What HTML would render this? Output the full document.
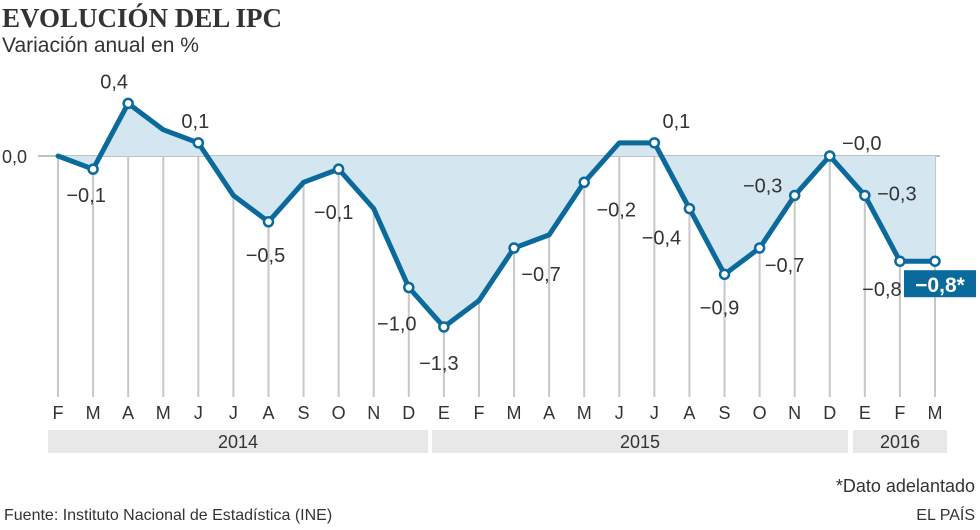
<!DOCTYPE html>
<html><head><meta charset="utf-8"><style>
body{margin:0;background:#fff;width:980px;height:525px;overflow:hidden;font-family:"Liberation Sans",sans-serif;}
</style></head><body>
<svg width="980" height="525" xmlns="http://www.w3.org/2000/svg" style="font-family:'Liberation Sans',sans-serif">
<text x="2" y="27" font-family="Liberation Serif" font-weight="bold" font-size="27" fill="#333">EVOLUCIÓN DEL IPC</text>
<text x="2" y="52" font-size="21" fill="#333">Variación anual en %</text>
<g id="grid"></g><g id="area"></g><g id="line"></g><g id="labels"></g>
<rect x="48" y="430" width="380" height="23" fill="#e8e8e8"/>
<text x="238" y="448" text-anchor="middle" font-size="18" fill="#333">2014</text>
<rect x="432" y="430" width="416" height="23" fill="#e8e8e8"/>
<text x="640" y="448" text-anchor="middle" font-size="18" fill="#333">2015</text>
<rect x="853" y="430" width="94" height="23" fill="#e8e8e8"/>
<text x="900" y="448" text-anchor="middle" font-size="18" fill="#333">2016</text>
<text x="2" y="163" font-size="18" fill="#333">0,0</text>
<text x="975" y="492" text-anchor="end" font-size="18" fill="#333">*Dato adelantado</text>
<text x="4" y="520" font-size="16" fill="#333">Fuente: Instituto Nacional de Estadística (INE)</text>
<text x="975" y="520" text-anchor="end" font-size="16" fill="#333">EL PAÍS</text>
</svg>
<script>
const months=["F","M","A","M","J","J","A","S","O","N","D","E","F","M","A","M","J","J","A","S","O","N","D","E","F","M"];
const values=[0.0,-0.1,0.4,0.2,0.1,-0.3,-0.5,-0.2,-0.1,-0.4,-1.0,-1.3,-1.1,-0.7,-0.6,-0.2,0.1,0.1,-0.4,-0.9,-0.7,-0.3,0.0,-0.3,-0.8,-0.8];
const labelTexts=["","−0,1","0,4","","0,1","","−0,5","","−0,1","","−1,0","−1,3","","−0,7","","−0,2","","0,1","−0,4","−0,9","−0,7","−0,3","−0,0","−0,3","−0,8",""];
const labelDx=[0,-7,-14,0,-3,0,-3,0,-5,0,-12,-5,0,27,0,32,0,22,-28,-5,25,-32,32,32,-18,0];
const labelDy=[0,26,-22,0,-22,0,33,0,43,0,36,36,0,26,0,27,0,-22,29,33,17,-10,-13,-2,28,0];
const NS="http://www.w3.org/2000/svg";
const x0=58,x1=935,yZero=156,unit=131.5;
const xs=i=>x0+i*(x1-x0)/(months.length-1);
const ys=v=>yZero-v*unit;
function mk(t,a,p){const e=document.createElementNS(NS,t);for(const k in a)e.setAttribute(k,a[k]);p.appendChild(e);return e;}
const grid=document.getElementById('grid'),area=document.getElementById('area'),line=document.getElementById('line'),labels=document.getElementById('labels');
months.forEach((m,i)=>{
 const g=mk('line',{x1:xs(i),x2:xs(i),y1:yZero,y2:397,stroke:'#c8c8c8','stroke-width':2},grid);
 
 
 const t=mk('text',{x:xs(i),y:419,'text-anchor':'middle','font-size':18,fill:'#333'},grid);
 t.textContent=m;
 
 
});
const zl=mk('line',{x1:38,x2:940,y1:yZero,y2:yZero,stroke:'#c0c0c0','stroke-width':2},grid);


let pts=values.map((v,i)=>xs(i)+','+ys(v)).join(' ');
const ar=mk('polygon',{points:xs(0)+','+yZero+' '+pts+' '+xs(values.length-1)+','+yZero,fill:'#d4e6f0'},area);


const pl=mk('polyline',{points:pts,fill:'none',stroke:'#0a6a9c','stroke-width':5,'stroke-linejoin':'round','stroke-linecap':'round'},line);


values.forEach((v,i)=>{
 if(labelTexts[i]===""&&i!==values.length-1)return;
 const c=mk('circle',{cx:xs(i),cy:ys(v),r:4.5,fill:'#fff',stroke:'#0a6a9c','stroke-width':2.5},line);
 
 
 if(labelTexts[i]!==""){
  const t=mk('text',{x:xs(i)+labelDx[i],y:ys(v)+labelDy[i]+7,'text-anchor':'middle','font-size':20,fill:'#333'},labels);
  t.textContent=labelTexts[i];
  
  
 }
});
const li=values.length-1;
const bx=mk('rect',{x:904,y:ys(values[li])+9,width:72,height:27,fill:'#0a6a9c'},labels);


const bt=mk('text',{x:940,y:ys(values[li])+31,'text-anchor':'middle','font-size':21,'font-weight':'bold',fill:'#fff'},labels);
bt.textContent=(values[li]<0?'−':'')+Math.abs(values[li]).toFixed(1).replace('.',',')+'*';


</script>
</body></html>
